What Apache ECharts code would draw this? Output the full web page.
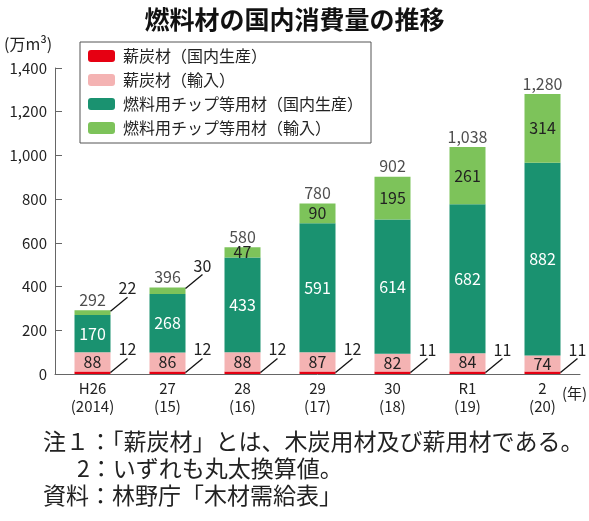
<!DOCTYPE html>
<html><head><meta charset="utf-8">
<script src="https://cdn.jsdelivr.net/npm/echarts@6/dist/echarts.min.js"></script>
<style>html,body{margin:0;padding:0;background:#fff}#c{width:589px;height:521px}</style>
</head><body><div id="c"></div>
<script>
const categories = ['H26\n(2014)', '27\n(15)', '28\n(16)', '29\n(17)', '30\n(18)', 'R1\n(19)', '2\n(20)'];
const charcoalDomestic = [12, 12, 12, 12, 11, 11, 11];
const charcoalImport = [88, 86, 88, 87, 82, 84, 74];
const chipDomestic = [170, 268, 433, 591, 614, 682, 882];
const chipImport = [22, 30, 47, 90, 195, 261, 314];
const totals = [292, 396, 580, 780, 902, 1038, 1280];
const seriesNames = ['薪炭材（国内生産）', '薪炭材（輸入）', '燃料用チップ等用材（国内生産）', '燃料用チップ等用材（輸入）'];
const outsideChipImport = [0, 1];

const FONT = '"Noto Sans CJK JP", "Noto Sans", sans-serif';
const BW = 36;

const leaderData = [];
charcoalDomestic.forEach((v, i) => leaderData.push([i, v, v]));
outsideChipImport.forEach(i => leaderData.push([i, totals[i], chipImport[i]]));

const chart = echarts.init(document.getElementById('c'), null, {renderer: 'canvas'});
chart.setOption({
  animation: false,
  textStyle: {fontFamily: FONT},
  title: {text: '燃料材の国内消費量の推移', left: 'center', top: 2,
    textStyle: {fontSize: 25, fontWeight: 'bold', color: '#111', fontFamily: FONT}},
  legend: {
    orient: 'vertical', left: 80, top: 42, itemWidth: 27, itemHeight: 12, itemGap: 8,
    padding: [6, 8, 7, 8], borderColor: '#555', borderWidth: 1,
    data: seriesNames,
    textStyle: {fontSize: 16, color: '#222', fontFamily: FONT, padding: [0, 0, 0, 3]}
  },
  grid: {left: 55, right: 9, top: 68, bottom: 147},
  xAxis: {
    type: 'category', data: categories,
    axisLine: {lineStyle: {color: '#666', width: 1}},
    axisTick: {inside: true, length: 6, lineStyle: {color: '#666'}},
    axisLabel: {fontSize: 15, color: '#222', lineHeight: 18, margin: 5, fontFamily: FONT}
  },
  yAxis: {
    type: 'value', min: 0, max: 1400, interval: 200,
    axisLine: {show: true, lineStyle: {color: '#666'}},
    axisTick: {show: true, inside: true, length: 7, lineStyle: {color: '#666'}},
    splitLine: {show: false},
    axisLabel: {fontSize: 15, color: '#222', margin: 8, fontFamily: FONT,
      formatter: v => v.toLocaleString('en-US')}
  },
  graphic: [
    {type: 'text', left: 4, top: 36, style: {text: '(万m³)', fontSize: 16, fill: '#222', fontFamily: FONT}},
    {type: 'text', left: 562, top: 386, style: {text: '(年)', fontSize: 15, fill: '#222', fontFamily: FONT}},
    {type: 'text', left: 43, top: 430, style: {text: '注１：「薪炭材」とは、木炭用材及び薪用材である。', fontSize: 23, fill: '#222', fontFamily: FONT}},
    {type: 'text', left: 77, top: 457, style: {text: '2：いずれも丸太換算値。', fontSize: 23, fill: '#222', fontFamily: FONT}},
    {type: 'text', left: 43, top: 484, style: {text: '資料：林野庁「木材需給表」', fontSize: 23, fill: '#222', fontFamily: FONT}}
  ],
  series: [
    {name: seriesNames[0], type: 'bar', stack: 'a', barWidth: BW, data: charcoalDomestic,
      itemStyle: {color: '#e60012'}},
    {name: seriesNames[1], type: 'bar', stack: 'a', barWidth: BW, data: charcoalImport,
      itemStyle: {color: '#f4b3b3'},
      label: {show: true, position: 'inside', color: '#222', fontSize: 16, fontFamily: FONT}},
    {name: seriesNames[2], type: 'bar', stack: 'a', barWidth: BW, data: chipDomestic,
      itemStyle: {color: '#1a9270'},
      label: {show: true, position: 'inside', color: '#fff', fontSize: 16, fontFamily: FONT}},
    {name: seriesNames[3], type: 'bar', stack: 'a', barWidth: BW,
      data: chipImport.map((v, i) => outsideChipImport.includes(i) ? {value: v, label: {show: false}} : v),
      itemStyle: {color: '#7dc35a'},
      label: {show: true, position: 'inside', color: '#222', fontSize: 16, fontFamily: FONT}},
    {name: 'total', type: 'scatter', data: totals, symbolSize: 1, itemStyle: {color: 'rgba(0,0,0,0)'},
      label: {show: true, position: 'top', distance: 2, color: '#222', fontSize: 16, fontFamily: FONT,
        formatter: p => p.value.toLocaleString('en-US')}},
    {name: 'leader', type: 'custom', data: leaderData, z: 10, clip: false,
      renderItem: (params, api) => {
        const p = api.coord([api.value(0), api.value(1)]);
        const x0 = p[0] + BW / 2, y0 = p[1] + 1;
        const x1 = x0 + 17, y1 = y0 - 14;
        return {type: 'group', children: [
          {type: 'polyline', shape: {points: [[x0, y0], [x1, y1]]}, style: {stroke: '#111', lineWidth: 1.3, fill: null}},
          {type: 'text', style: {text: String(api.value(2)), x: x1, y: y1 - 1, align: 'center',
            verticalAlign: 'bottom', fontSize: 16, fill: '#222', fontFamily: FONT}}
        ]};
      }}
  ]
});
</script></body></html>
